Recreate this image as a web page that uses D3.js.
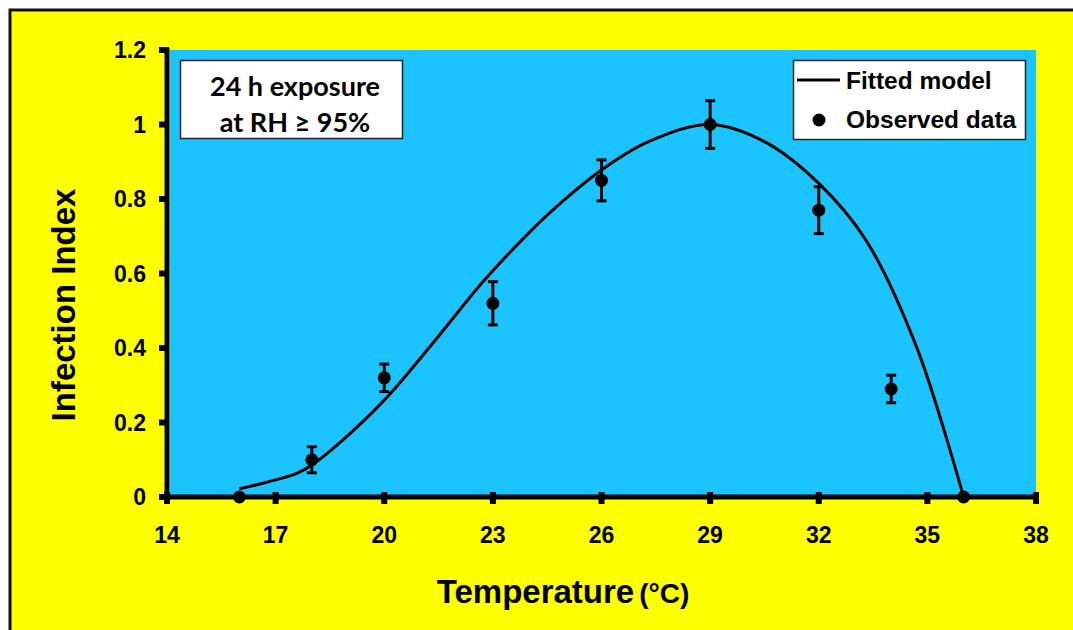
<!DOCTYPE html>
<html>
<head>
<meta charset="utf-8">
<script src="https://cdn.jsdelivr.net/npm/d3@7"></script>
<style>
  body { margin: 0; background: #fff; }
  svg { display: block; }
  text { font-family: "Liberation Sans", Arial, sans-serif; font-weight: bold; fill: #000; }
</style>
</head>
<body>
<svg id="chart"></svg>
<script>
// observed infection index (mean +/- error) by temperature
var temps = [16, 18, 20, 23, 26, 29, 32, 34, 36];
var observed = [0, 0.10, 0.32, 0.52, 0.85, 1.0, 0.77, 0.29, 0];
var errors = [0, 0.035, 0.037, 0.058, 0.055, 0.064, 0.063, 0.037, 0];

// fitted model curve
var fitTemps = [16, 17, 17.6, 18, 18.75, 20, 21.3, 22.7, 23.6, 24.5, 26, 27.3, 29, 30.5, 32, 33.3, 34.7, 36];
var fitValues = [0.022, 0.046, 0.064, 0.086, 0.144, 0.26, 0.408, 0.575, 0.67, 0.757, 0.878, 0.954, 1.0, 0.954, 0.842, 0.69, 0.403, 0];

var xTicks = [14, 17, 20, 23, 26, 29, 32, 35, 38];
var yTicks = [0, 0.2, 0.4, 0.6, 0.8, 1, 1.2];

var width = 1073;
var height = 630;

var svg = d3.select("#chart")
            .attr("width", width)
            .attr("height", height);

// yellow page with a dark frame
svg.append("rect")
   .attr("x", 10).attr("y", 10)
   .attr("width", width + 20).attr("height", height + 20)
   .attr("fill", "#ffff00")
   .attr("stroke", "#111")
   .attr("stroke-width", 3);

var xScale = d3.scaleLinear().domain([14, 38]).range([167, 1036]);
var yScale = d3.scaleLinear().domain([0, 1.2]).range([497, 50]);

// plot area
svg.append("rect")
   .attr("x", xScale(14) + 3)
   .attr("y", yScale(1.2))
   .attr("width", xScale(38) - xScale(14) - 3)
   .attr("height", yScale(0) - yScale(1.2))
   .attr("fill", "#1bc3ff");

// y axis
svg.append("line")
   .attr("x1", xScale(14)).attr("x2", xScale(14))
   .attr("y1", yScale(1.2) - 2).attr("y2", yScale(0) + 2)
   .attr("stroke", "#000").attr("stroke-width", 5);

svg.selectAll(".ytick")
  .data(yTicks)
  .enter()
  .append("rect")
    .attr("class", "ytick")
    .attr("x", xScale(14) - 8)
    .attr("y", d => yScale(d) - 3)
    .attr("width", 10)
    .attr("height", 6)
    .attr("fill", "#000");

svg.selectAll(".ylabel")
  .data(yTicks)
  .enter()
  .append("text")
    .attr("class", "ylabel")
    .attr("x", 146)
    .attr("y", d => yScale(d) + 8)
    .attr("text-anchor", "end")
    .style("font-size", "23px")
    .text(d => d3.format("")(+d.toFixed(1)));

// x axis
svg.append("line")
   .attr("x1", xScale(14) - 7).attr("x2", xScale(38) + 3)
   .attr("y1", yScale(0)).attr("y2", yScale(0))
   .attr("stroke", "#000").attr("stroke-width", 5);

svg.selectAll(".xtick")
  .data(xTicks)
  .enter()
  .append("rect")
    .attr("class", "xtick")
    .attr("x", d => xScale(d) - 3)
    .attr("y", yScale(0) - 5)
    .attr("width", 6)
    .attr("height", 12)
    .attr("fill", "#000");

svg.selectAll(".xlabel")
  .data(xTicks)
  .enter()
  .append("text")
    .attr("class", "xlabel")
    .attr("x", d => xScale(d))
    .attr("y", 543)
    .attr("text-anchor", "middle")
    .style("font-size", "23px")
    .text(d => d);

// axis titles
var xTitle = svg.append("text")
   .attr("x", 563)
   .attr("y", 603)
   .attr("text-anchor", "middle")
   .style("font-size", "33px");
xTitle.append("tspan").text("Temperature");
xTitle.append("tspan").attr("dx", 5).style("font-size", "28px").text("(°C)");

svg.append("text")
   .attr("transform", "translate(75,305) rotate(-90)")
   .attr("text-anchor", "middle")
   .style("font-size", "33px")
   .text("Infection Index");

// fitted curve
var line = d3.line()
             .x((d, i) => xScale(fitTemps[i]))
             .y(d => yScale(d))
             .curve(d3.curveCatmullRom.alpha(0.5));

svg.append("path")
   .datum(fitValues)
   .attr("d", line)
   .attr("fill", "none")
   .attr("stroke", "#000")
   .attr("stroke-width", 3);

// error bars
var bars = svg.selectAll(".err")
  .data(temps.map((t, i) => ({t: t, v: observed[i], e: errors[i]})).filter(d => d.e > 0))
  .enter()
  .append("g")
    .attr("class", "err");

bars.append("line")
    .attr("x1", d => xScale(d.t)).attr("x2", d => xScale(d.t))
    .attr("y1", d => yScale(d.v + d.e)).attr("y2", d => yScale(d.v - d.e))
    .attr("stroke", "#000").attr("stroke-width", 3);

bars.append("line")
    .attr("x1", d => xScale(d.t) - 5).attr("x2", d => xScale(d.t) + 5)
    .attr("y1", d => yScale(d.v + d.e)).attr("y2", d => yScale(d.v + d.e))
    .attr("stroke", "#000").attr("stroke-width", 3);

bars.append("line")
    .attr("x1", d => xScale(d.t) - 5).attr("x2", d => xScale(d.t) + 5)
    .attr("y1", d => yScale(d.v - d.e)).attr("y2", d => yScale(d.v - d.e))
    .attr("stroke", "#000").attr("stroke-width", 3);

// observed points
svg.selectAll(".dot")
  .data(observed)
  .enter()
  .append("circle")
    .attr("class", "dot")
    .attr("cx", (d, i) => xScale(temps[i]))
    .attr("cy", d => yScale(d))
    .attr("r", 6.5)
    .attr("fill", "#000");

// annotation box
svg.append("rect")
   .attr("x", 180.5).attr("y", 60.5)
   .attr("width", 222).attr("height", 78)
   .attr("fill", "#fff")
   .attr("stroke", "#222").attr("stroke-width", 1.5);

var note = svg.append("text")
   .attr("text-anchor", "middle")
   .style("font-family", "Lato, 'Open Sans', sans-serif")
   .style("font-size", "27px");
note.append("tspan").attr("x", 295).attr("y", 96).text("24 h exposure");
note.append("tspan").attr("x", 295).attr("y", 132).text("at RH \u2265 95%");

// legend
svg.append("rect")
   .attr("x", 793.5).attr("y", 60.5)
   .attr("width", 232).attr("height", 79)
   .attr("fill", "#fff")
   .attr("stroke", "#222").attr("stroke-width", 1.5);

svg.append("line")
   .attr("x1", 797).attr("x2", 840)
   .attr("y1", 80).attr("y2", 80)
   .attr("stroke", "#000").attr("stroke-width", 3);

svg.append("circle")
   .attr("cx", 819).attr("cy", 120).attr("r", 6.5)
   .attr("fill", "#000");

svg.append("text")
   .attr("x", 846).attr("y", 89)
   .style("font-size", "24.5px")
   .text("Fitted model");

svg.append("text")
   .attr("x", 846).attr("y", 128)
   .style("font-size", "24.5px")
   .text("Observed data");
</script>
</body>
</html>
